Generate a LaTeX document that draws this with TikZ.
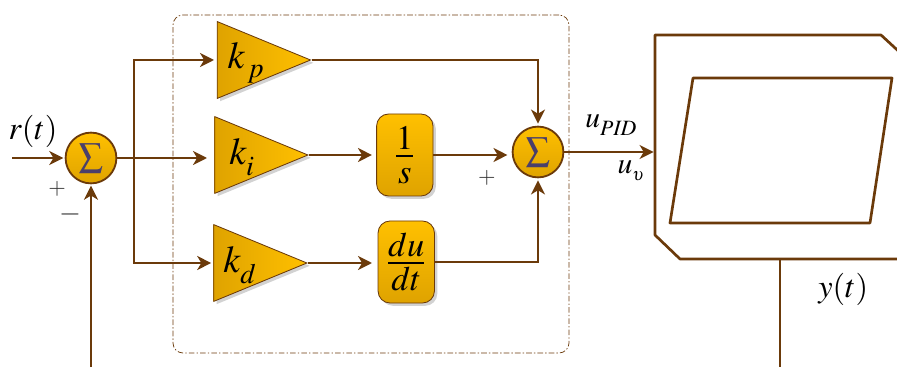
\documentclass[tikz,border=0pt]{standalone}
\usepackage{mathptmx}
\usetikzlibrary{arrows.meta,shapes.geometric,shadows}
\definecolor{linebrown}{HTML}{6B3A0A}
\definecolor{goldlight}{HTML}{FFC000}
\definecolor{golddark}{HTML}{DFA300}
\definecolor{sigmablue}{HTML}{4A3F6B}
\newcommand{\gaintext}{\fontsize{27}{29}\selectfont}
\newcommand{\bigtext}{\fontsize{23}{25}\selectfont}
\newcommand{\midtext}{\fontsize{21}{23}\selectfont}
\newcommand{\fractext}{\fontsize{33}{35}\selectfont}
\newcommand{\sigmatext}{\fontsize{17}{19}\selectfont}
\tikzset{
  gain/.style={isosceles triangle,isosceles triangle apex angle=45,isosceles triangle stretches,
    minimum width=1.92cm,minimum height=2.33cm,inner sep=0pt,anchor=apex,draw=linebrown,line width=0.6pt,
    left color=golddark,right color=goldlight,drop shadow={shadow xshift=2pt,shadow yshift=-2pt,fill=gray!35,opacity=1}},
  opblock/.style={rectangle,rounded corners=0.3cm,minimum width=1.41cm,minimum height=2.05cm,inner sep=0pt,
    draw=linebrown,line width=0.6pt,top color=goldlight,bottom color=golddark,
    drop shadow={shadow xshift=2pt,shadow yshift=-2pt,fill=gray!35,opacity=1}},
  sumnode/.style={circle,minimum size=1.27cm,inner sep=0pt,draw=linebrown,line width=1.3pt,
    top color=goldlight,bottom color=golddark,text=sigmablue},
  link/.style={draw=linebrown,line width=1.3pt},
  thinlink/.style={draw=linebrown,line width=0.9pt},
  outline/.style={draw=linebrown,line width=1.9pt,line join=round},
  ctrlbox/.style={rectangle,rounded corners=0.25cm,minimum width=9.9cm,minimum height=8.45cm,inner sep=0pt,
    draw=linebrown,line width=0.5pt,dash pattern=on 4pt off 1.5pt on 1pt off 1.5pt},
  plussign/.style={inner sep=0pt,text=black!80,font=\fontsize{16}{18}\selectfont},
  minussign/.style={inner sep=0pt,text=black!80,font=\fontsize{20}{22}\selectfont},
  lab/.style={inner sep=0pt,font=\bigtext},
}
\begin{document}
\begin{tikzpicture}[>={Stealth[length=10pt,width=10pt,inset=3pt]}]
  \useasboundingbox (0,0) rectangle (22.425,9.175);
  % controller frame
  \node[ctrlbox] (pid) at (9.275,4.575) {};
  % summing points
  \node[sumnode] (sumin) at (2.275,5.225) {\sigmatext$\displaystyle\sum$};
  \node[sumnode] (sumout) at (13.45,5.375) {\sigmatext$\displaystyle\sum$};
  % gains
  \node[gain] (gainp) at (7.79,7.675) {};
  \node[gain] (gaini) at (7.725,5.3) {};
  \node[gain] (gaind) at (7.7,2.6) {};
  \node[lab,font=\gaintext] (kp) at (6.15,7.6) {$k^{}_{\,p}$};
  \node[lab,font=\gaintext] (ki) at (6.05,5.25) {$k^{}_{i}$};
  \node[lab,font=\gaintext] (kd) at (6.0,2.55) {$k^{}_{d}$};
  % operators
  \node[opblock] (integ) at (10.12,5.3) {\fractext$\frac{1}{s}$};
  \node[opblock] (deriv) at (10.156,2.625) {\fractext$\frac{du}{dt}$};
  % plant
  \draw[outline] (16.375,8.3) -- (22.025,8.3) -- (23,7.4) -- (23,2.7) -- (17,2.7) -- (16.375,3.3) -- cycle;
  \draw[outline] (17.325,7.225) -- (22.3,7.225) -- (21.75,3.6) -- (16.75,3.6) -- cycle;
  % free ends
  \coordinate (rin) at (0.3,5.225);
  \coordinate (fbend) at (2.275,0);
  \coordinate (branch) at (3.35,5.225);
  \coordinate (plantin) at (16.375,5.375);
  \coordinate (plantout) at (19.5,2.7);
  \coordinate (yend) at (19.5,0);
  % connectors
  \draw[link,->,shorten >=1pt] (rin) -- (sumin.west);
  \draw[link,->,shorten >=1pt] (fbend) -- (sumin.south);
  \draw[link,->] (sumin.east) -- (5.175,5.225);
  \draw[link,->] (branch) |- (5.35,7.675);
  \draw[link,->] (branch) |- (5.28,2.6);
  \draw[link,->] (gainp.apex) -| ([yshift=1.5pt]sumout.north);
  \draw[link,->,shorten >=3pt] (gaini.apex) -- (gaini.apex -| integ.west);
  \draw[link,->,shorten >=4pt] (gaind.apex) -- (gaind.apex -| deriv.west);
  \draw[link,->,shorten >=3pt] (integ.east) -- (integ.east -| sumout.west);
  \draw[link,->] (deriv.east) -| ([yshift=-1.5pt]sumout.south);
  \draw[link,->,shorten >=1pt] (sumout.east) -- (plantin);
  \draw[thinlink] (plantout) -- (yend);
  % labels
  \node[lab] (rt) at (0.825,5.9) {$r(t)$};
  \node[plussign] (plusin) at (1.43,4.45) {$+$};
  \node[minussign] (minusin) at (1.75,3.825) {$-$};
  \node[plussign] (plusout) at (12.17,4.72) {$+$};
  \node[lab] (upid) at (15.28,6.05) {\midtext$u^{}_{\mathit{PID}}$};
  \node[lab] (uv) at (15.78,4.9) {\midtext$u^{}_{\scriptscriptstyle\upsilon}$};
  \node[lab] (yt) at (21.08,1.93) {$y(t)$};
\end{tikzpicture}
\end{document}
